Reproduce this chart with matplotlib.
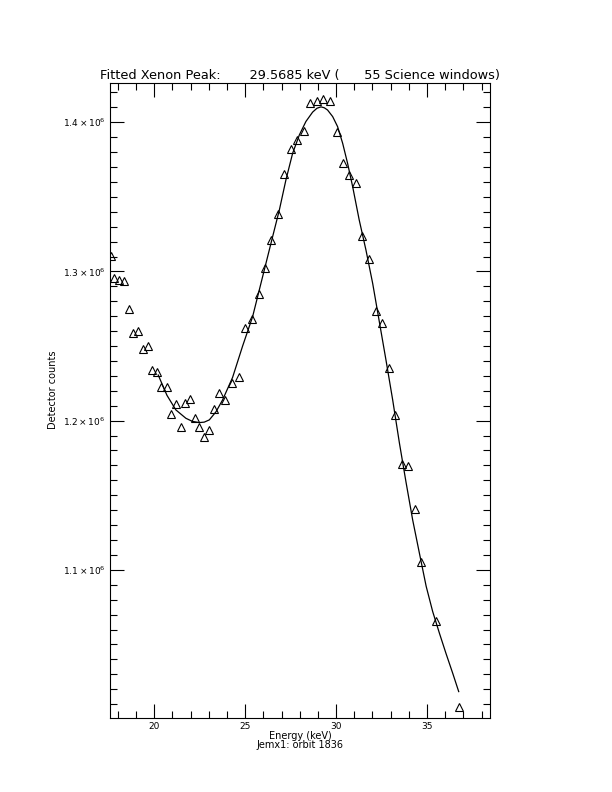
import numpy as np
import matplotlib
matplotlib.use('Agg')
import matplotlib.pyplot as plt
from matplotlib.ticker import MultipleLocator, FixedLocator

# measured counts (in units of 1e6) per energy channel
energy = [17.62, 17.80, 18.08, 18.33, 18.59, 18.86, 19.12, 19.38, 19.65, 19.89,
          20.15, 20.40, 20.68, 20.94, 21.19, 21.45, 21.71, 21.96, 22.24, 22.49,
          22.75, 23.01, 23.26, 23.56, 23.91, 24.27, 24.64, 25.01, 25.37, 25.74,
          26.09, 26.44, 26.80, 27.15, 27.52, 27.87, 28.21, 28.58, 28.93, 29.30,
          29.64, 30.03, 30.38, 30.73, 31.07, 31.44, 31.79, 32.17, 32.52, 32.89,
          33.24, 33.60, 33.93, 34.34, 34.67, 35.47, 36.74]
counts = [1.3106, 1.2954, 1.2943, 1.2938, 1.2749, 1.2590, 1.2603, 1.2483, 1.2501, 1.2342,
          1.2324, 1.2228, 1.2224, 1.2047, 1.2114, 1.1960, 1.2121, 1.2147, 1.2016, 1.1960,
          1.1893, 1.1940, 1.2078, 1.2186, 1.2141, 1.2255, 1.2293, 1.2619, 1.2682, 1.2849,
          1.3021, 1.3209, 1.3385, 1.3656, 1.3821, 1.3881, 1.3942, 1.4129, 1.4143, 1.4154,
          1.4143, 1.3937, 1.3729, 1.3647, 1.3591, 1.3240, 1.3084, 1.2735, 1.2657, 1.2353,
          1.2036, 1.1712, 1.1696, 1.1410, 1.1051, 1.0660, 1.0083]

# fitted curve
fit_energy = [20.22, 20.70, 21.19, 21.74, 22.10, 22.48, 22.75, 23.03, 23.40, 23.76,
              24.31, 24.86, 25.41, 25.96, 26.51, 26.88, 27.24, 27.61, 27.98, 28.34,
              28.71, 28.95, 29.17, 29.35, 29.53, 29.81, 30.08, 30.36, 30.63, 30.91,
              31.27, 31.64, 32.01, 32.38, 32.74, 33.11, 33.48, 33.84, 34.21, 34.58,
              34.95, 35.31, 35.68, 36.04, 36.41, 36.74]
fit_counts = [1.2306, 1.2170, 1.2072, 1.2016, 1.1995, 1.1987, 1.1990, 1.2005, 1.2060, 1.2139,
              1.2290, 1.2500, 1.2697, 1.2965, 1.3233, 1.3412, 1.3613, 1.3792, 1.3915, 1.4005,
              1.4068, 1.4094, 1.4103, 1.4097, 1.4082, 1.4038, 1.3971, 1.3859, 1.3725, 1.3568,
              1.3345, 1.3144, 1.2920, 1.2660, 1.2407, 1.2139, 1.1850, 1.1590, 1.1334, 1.1111,
              1.0890, 1.0720, 1.0575, 1.0440, 1.0307, 1.0184]

ytick_vals = [1.1e6, 1.2e6, 1.3e6, 1.4e6]
ytick_labels = [r'$1.1\times10^{6}$', r'$1.2\times10^{6}$', r'$1.3\times10^{6}$', r'$1.4\times10^{6}$']

fig = plt.figure(figsize=(6.12, 7.92), dpi=100)
ax = fig.add_axes([110 / 612, 1 - 718 / 792, 380 / 612, 635 / 792])

ax.plot(np.array(fit_energy), np.array(fit_counts) * 1e6, color='black', lw=0.9)
ax.plot(np.array(energy), np.array(counts) * 1e6, linestyle='none', marker='^',
        markersize=6, markerfacecolor='none', markeredgecolor='black', markeredgewidth=0.8)

ax.set_xlim(17.57, 38.46)
ax.set_ylim(1.0007e6, 1.4263e6)

ax.xaxis.set_major_locator(MultipleLocator(5))
ax.xaxis.set_minor_locator(MultipleLocator(1))
ax.yaxis.set_major_locator(FixedLocator(ytick_vals))
ax.yaxis.set_minor_locator(MultipleLocator(1e4))
ax.set_yticklabels(ytick_labels)

ax.tick_params(which='both', direction='in', top=True, right=True, labelsize=6.5, width=0.8)
ax.tick_params(which='major', length=10)
ax.tick_params(which='minor', length=5)
ax.tick_params(axis='y', pad=3.5)
ax.tick_params(axis='x', pad=3)
for s in ax.spines.values():
    s.set_linewidth(0.8)

ax.set_xlabel('Energy (keV)\nJemx1: orbit 1836', fontsize=7, labelpad=0, linespacing=0.85)
ax.set_ylabel('Detector counts', fontsize=7)
ax.yaxis.set_label_coords(-0.137, 0.517)
ax.set_title('Fitted Xenon Peak:       29.5685 keV (      55 Science windows)',
             fontsize=9.3, pad=3)

fig.savefig('out.png', dpi=100)
